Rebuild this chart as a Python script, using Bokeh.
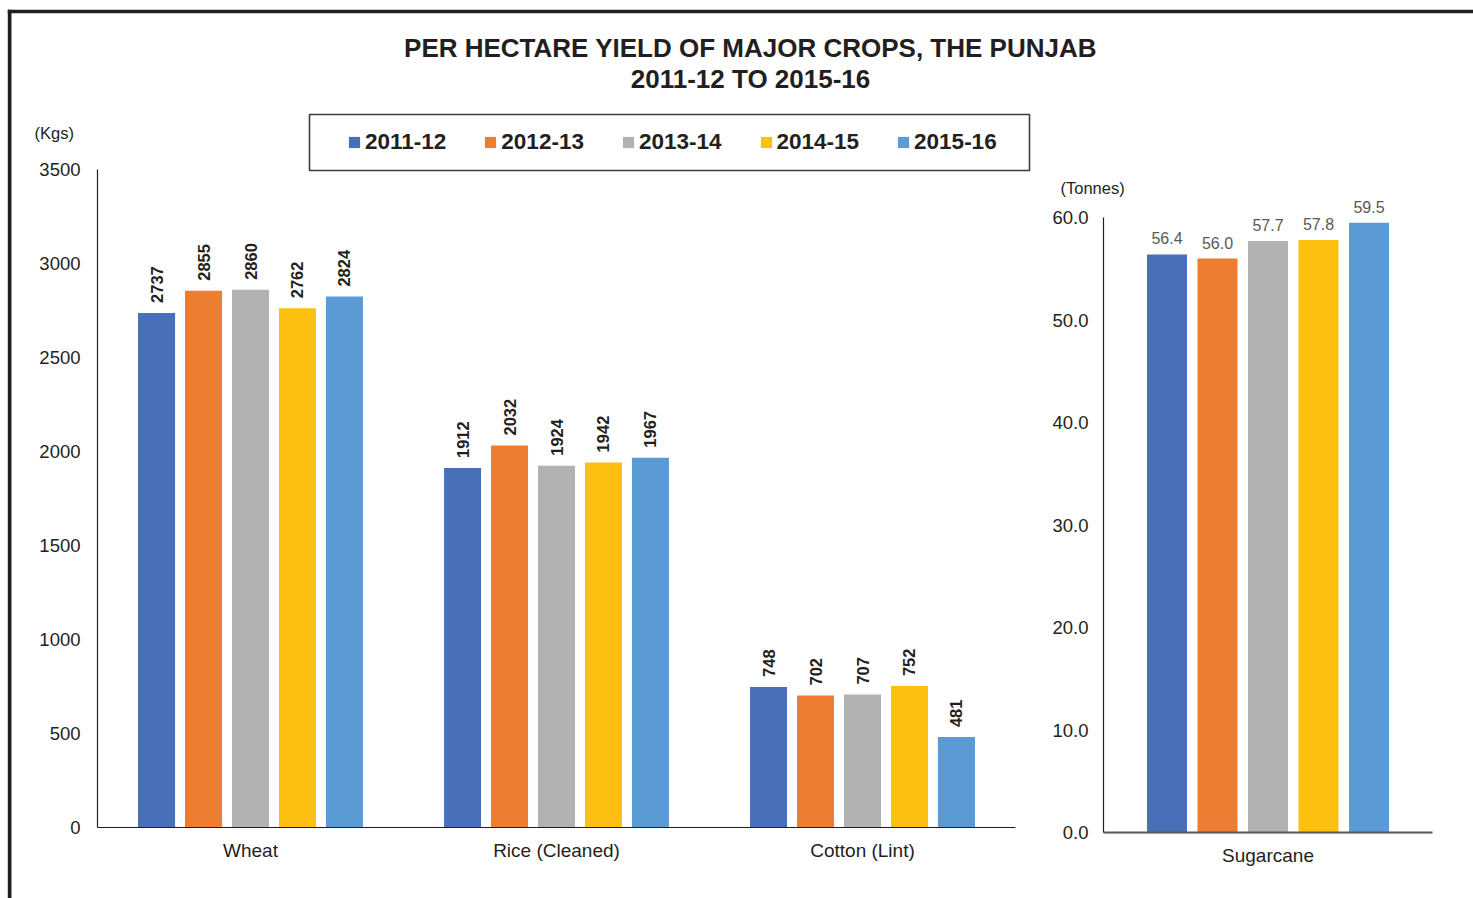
import math
from bokeh.plotting import figure
from bokeh.layouts import row, column
from bokeh.models import (Range1d, FactorRange, FixedTicker, NumeralTickFormatter,
                          Legend, LegendItem, ColumnDataSource)
from bokeh.transform import dodge
from bokeh.embed import file_html
from bokeh.resources import INLINE
from bokeh.core.properties import value

# ---------------- data ----------------
crops = ["Wheat", "Rice (Cleaned)", "Cotton (Lint)"]
years = ["2011-12", "2012-13", "2013-14", "2014-15", "2015-16"]
yield_2011_12 = [2737, 1912, 748]
yield_2012_13 = [2855, 2032, 702]
yield_2013_14 = [2860, 1924, 707]
yield_2014_15 = [2762, 1942, 752]
yield_2015_16 = [2824, 1967, 481]
sugar_crop = ["Sugarcane"]
sugarcane = [56.4, 56.0, 57.7, 57.8, 59.5]
kgs_ticks = [0, 500, 1000, 1500, 2000, 2500, 3000, 3500]
tonne_ticks = [0, 10, 20, 30, 40, 50, 60]
title_lines = ["PER HECTARE YIELD OF MAJOR CROPS, THE PUNJAB", "2011-12 TO 2015-16"]

series = [yield_2011_12, yield_2012_13, yield_2013_14, yield_2014_15, yield_2015_16]
colors = ["#4770b8", "#ed7d31", "#b1b2b4", "#fdc010", "#5b9bd5"]

W, H = 1473, 898
FONT = "Liberation Sans"
INK = "#231f20"
offsets = [-0.307, -0.1535, 0.0, 0.1535, 0.307]

# ---------------- background (border, title, legend box, units) ----------------
bg = figure(width=W, height=H, x_range=Range1d(0, W), y_range=Range1d(H, 0),
            x_axis_type=None, y_axis_type=None, toolbar_location=None,
            output_backend="svg", min_border=0, title=None,
            outline_line_color=None, background_fill_color="white",
            border_fill_color="white")
bg.grid.visible = False
bg.quad(left=[7.3, 7.3], right=[11, W], top=[9.3, 9.3], bottom=[H, 12.7],
        fill_color=INK, line_color=None)
bg.quad(left=[309], right=[1029], top=[114], bottom=[170], fill_color=None,
        line_color="#3c3c3c", line_width=1.6)
bg.text(x=[750, 750], y=[47.5, 78.5], text=title_lines, text_font=value(FONT),
        text_font_style="bold", text_font_size="26px", text_align="center",
        text_baseline="middle", text_color=INK)
bg.text(x=[34, 1060], y=[132, 187], text=["(Kgs)", "(Tonnes)"], text_font=value(FONT),
        text_font_size="16.5px", text_align="left", text_baseline="middle",
        text_color=INK)

# ---------------- left chart ----------------
ya_end = 3500 * (827 - 100) / 658
pa = figure(width=W, height=H, x_range=FactorRange(*crops), y_range=Range1d(0, ya_end),
            toolbar_location=None, output_backend="svg", title=None,
            min_border_left=97, min_border_right=W - 1015, min_border_top=100,
            min_border_bottom=H - 827, background_fill_color=None,
            border_fill_color=None, outline_line_color=None)
data = dict(crop=crops)
for i, s in enumerate(series):
    data[f"y{i}"] = s
    data[f"t{i}"] = [str(v) for v in s]
src = ColumnDataSource(data)
items = []
for i, yr in enumerate(years):
    r = pa.vbar(x=dodge("crop", offsets[i], range=pa.x_range), top=f"y{i}",
                width=0.121, source=src, fill_color=colors[i], line_color=None)
    items.append(LegendItem(label=yr, renderers=[r]))
    pa.text(x=dodge("crop", offsets[i], range=pa.x_range), y=f"y{i}", text=f"t{i}",
            source=src, angle=math.pi / 2, text_align="left", text_baseline="middle",
            y_offset=-10, text_font=value(FONT), text_font_style="bold",
            text_font_size="16.5px", text_color=INK)

legend = Legend(items=items, orientation="horizontal", location=(250, 672),
                padding=0, margin=0, spacing=37, glyph_width=14, glyph_height=14,
                label_standoff=4, label_text_font=FONT, label_text_font_style="bold",
                label_text_font_size="22.5px", label_text_color=INK,
                border_line_color=None, background_fill_alpha=0)
pa.add_layout(legend)

pa.grid.visible = False
pa.yaxis.ticker = FixedTicker(ticks=kgs_ticks)
pa.yaxis.bounds = (0, 3500)
pa.xaxis.major_tick_line_color = None
pa.yaxis.major_tick_line_color = None
pa.yaxis.minor_tick_line_color = None
pa.axis.axis_line_color = INK
pa.axis.axis_line_width = 1.2
pa.axis.major_label_text_font = FONT
pa.axis.major_label_text_color = INK
pa.yaxis.major_label_text_font_size = "18.5px"
pa.yaxis.major_label_standoff = 11
pa.xaxis.major_label_text_font_size = "19px"
pa.xaxis.major_label_standoff = 6

# ---------------- right chart ----------------
yb_end = 60 * (832 - 180) / 615
pb = figure(width=W, height=H, x_range=FactorRange(*sugar_crop), y_range=Range1d(0, yb_end),
            toolbar_location=None, output_backend="svg", title=None,
            min_border_left=1103, min_border_right=W - 1432, min_border_top=180,
            min_border_bottom=H - 832, background_fill_color=None,
            border_fill_color=None, outline_line_color=None)
sdata = dict(crop=sugar_crop)
for i, v in enumerate(sugarcane):
    sdata[f"y{i}"] = [v]
    sdata[f"t{i}"] = [f"{v:.1f}"]
ssrc = ColumnDataSource(sdata)
for i, yr in enumerate(years):
    pb.vbar(x=dodge("crop", offsets[i], range=pb.x_range), top=f"y{i}",
            width=0.1216, source=ssrc, fill_color=colors[i], line_color=None)
    pb.text(x=dodge("crop", offsets[i], range=pb.x_range), y=f"y{i}", text=f"t{i}",
            source=ssrc, text_align="center", text_baseline="bottom", y_offset=-10,
            text_font=value(FONT), text_font_size="16px", text_color="#595959")

pb.grid.visible = False
pb.yaxis.ticker = FixedTicker(ticks=tonne_ticks)
pb.yaxis.formatter = NumeralTickFormatter(format="0.0")
pb.yaxis.bounds = (0, 60)
pb.xaxis.major_tick_line_color = None
pb.yaxis.major_tick_line_color = None
pb.yaxis.minor_tick_line_color = None
pb.yaxis.axis_line_color = INK
pb.yaxis.axis_line_width = 1.2
pb.xaxis.axis_line_color = "#595959"
pb.xaxis.axis_line_width = 1.8
pb.axis.major_label_text_font = FONT
pb.axis.major_label_text_color = INK
pb.yaxis.major_label_text_font_size = "18.5px"
pb.yaxis.major_label_standoff = 9
pb.xaxis.major_label_text_font_size = "19px"
pb.xaxis.major_label_standoff = 6

ca = column(pa)
cb = column(pb)
ca.margin = (0, 0, 0, -W)
cb.margin = (0, 0, 0, -W)
layout = row(column(bg), ca, cb, spacing=0)

open("out.html", "w").write(file_html(layout, INLINE))
